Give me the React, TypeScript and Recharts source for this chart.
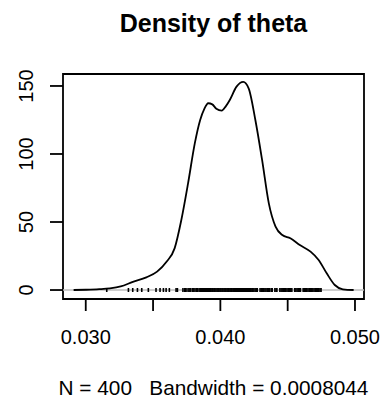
import React from "react";
import {
  ComposedChart,
  Line,
  Scatter,
  XAxis,
  YAxis,
  ReferenceArea,
  ReferenceLine,
} from "recharts";

const titleText = "Density of theta";
const subtitleText = "N = 400\u00a0\u00a0\u00a0Bandwidth = 0.0008044";

const densityX = [
  0.0291, 0.03, 0.031, 0.0318, 0.0326, 0.0335, 0.0345, 0.0353, 0.036, 0.0366,
  0.0371, 0.0376, 0.0381, 0.0385, 0.0388, 0.0391, 0.0394, 0.0397, 0.0401,
  0.0404, 0.0407, 0.0412, 0.0417, 0.0421, 0.0426, 0.0431, 0.0436, 0.0441,
  0.0446, 0.0452, 0.0459, 0.0467, 0.0473, 0.0479, 0.0485, 0.0491, 0.0499,
];
const densityY = [
  0, 0.2, 0.6, 1.2, 2.6, 6.0, 9.3, 13.5, 20.8, 30.6, 51.5, 78.4, 107.8, 125,
  133, 137.3, 136.5, 133.3, 131.9, 135, 139.7, 149.5, 153, 148.3, 125, 95.6,
  63.7, 46.6, 40.4, 38, 33.1, 28.2, 22.1, 12.3, 3.7, 0.5, 0,
];

const rugValues = [
  0.03156, 0.03317, 0.03349, 0.03384, 0.03416, 0.03465, 0.03522, 0.03552,
  0.03577, 0.03597, 0.03621, 0.03671, 0.03681, 0.03722, 0.03735, 0.03741,
  0.03752, 0.03766, 0.03774, 0.03781, 0.03795, 0.03803, 0.03812, 0.03824,
  0.03831, 0.03842, 0.03851, 0.03858, 0.03867, 0.03875, 0.03884, 0.03891,
  0.03899, 0.03906, 0.03914, 0.03921, 0.03929, 0.03937, 0.03944, 0.03952,
  0.03959, 0.03967, 0.03975, 0.03982, 0.03989, 0.03997, 0.04004, 0.04012,
  0.04019, 0.04027, 0.04034, 0.04041, 0.04049, 0.04056, 0.04063, 0.04071,
  0.04078, 0.04085, 0.04093, 0.041, 0.04107, 0.04114, 0.04122, 0.04129,
  0.04136, 0.04144, 0.04151, 0.04158, 0.04166, 0.04173, 0.04181, 0.04188,
  0.04195, 0.04203, 0.04211, 0.04218, 0.04226, 0.04234, 0.04241, 0.04249,
  0.04258, 0.04266, 0.04274, 0.04295, 0.04304, 0.04313, 0.04322, 0.04331,
  0.04339, 0.04348, 0.04357, 0.04366, 0.04378, 0.04385, 0.04405, 0.04414,
  0.0442, 0.04442, 0.04451, 0.04459, 0.04468, 0.04477, 0.04486, 0.04495,
  0.04504, 0.04513, 0.04522, 0.04531, 0.04552, 0.04561, 0.0457, 0.04579,
  0.04588, 0.04595, 0.04615, 0.04624, 0.04633, 0.04642, 0.04651, 0.0466,
  0.04669, 0.04678, 0.04687, 0.04696, 0.04705, 0.04714, 0.04722, 0.04731,
  0.0474, 0.04748,
];

const xTicks = [0.03, 0.035, 0.04, 0.045, 0.05];
const xTickLabels = ["0.030", "", "0.040", "", "0.050"];
const yTicks = [0, 50, 100, 150];
const yTickLabels = ["0", "50", "100", "150"];

const xDomain = [0.02831, 0.05067];
const yDomain = [-6.6, 158.8];

const densityData = densityX.map((x, i) => ({ x, y: densityY[i] }));
const rugData = rugValues.map((x) => ({ x, y: 0 }));

const FONT = "'Liberation Sans', Arial, Helvetica, sans-serif";

const XTick = (props: any) => {
  const { x, y, payload } = props;
  const idx = xTicks.indexOf(payload.value);
  const label = idx >= 0 ? xTickLabels[idx] : "";
  return (
    <g>
      <line x1={x} x2={x} y1={y} y2={y + 12} stroke="#000" strokeWidth={1.8} />
      {label ? (
        <text
          x={x}
          y={y + 45}
          textAnchor="middle"
          fontFamily={FONT}
          fontSize={20}
          fill="#000"
        >
          {label}
        </text>
      ) : null}
    </g>
  );
};

const YTick = (props: any) => {
  const { x, y, payload } = props;
  const idx = yTicks.indexOf(payload.value);
  const label = idx >= 0 ? yTickLabels[idx] : "";
  return (
    <g>
      <line x1={x} x2={x - 13} y1={y} y2={y} stroke="#000" strokeWidth={1.8} />
      <text
        x={x - 30}
        y={y}
        textAnchor="middle"
        fontFamily={FONT}
        fontSize={20}
        fill="#000"
        transform={`rotate(-90 ${x - 30} ${y})`}
      >
        {label}
      </text>
    </g>
  );
};

const RugMark = (props: any) => {
  const { cx, cy } = props;
  return (
    <line x1={cx} x2={cx} y1={cy - 2} y2={cy + 2} stroke="#000" strokeWidth={1.6} />
  );
};

export default function App() {
  return (
    <div
      style={{
        position: "absolute",
        left: 0,
        top: 0,
        width: 384,
        height: 400,
        background: "#fff",
      }}
    >
      <ComposedChart
        width={384}
        height={400}
        margin={{ top: 74, right: 20, bottom: 51, left: 0 }}
      >
        <XAxis
          type="number"
          dataKey="x"
          domain={xDomain}
          ticks={xTicks}
          allowDataOverflow
          axisLine={false}
          tickLine={false}
          tickSize={0}
          tickMargin={0}
          height={50}
          tick={<XTick />}
          interval={0}
        />
        <YAxis
          type="number"
          dataKey="y"
          domain={yDomain}
          ticks={yTicks}
          allowDataOverflow
          axisLine={false}
          tickLine={false}
          tickSize={0}
          tickMargin={0}
          width={63}
          tick={<YTick />}
          interval={0}
        />
        <ReferenceLine y={0} stroke="#bebebe" strokeWidth={1.3} />
        <Scatter
          data={rugData}
          dataKey="y"
          shape={<RugMark />}
          isAnimationActive={false}
        />
        <Line
          data={densityData}
          dataKey="y"
          type="monotone"
          stroke="#000"
          strokeWidth={1.8}
          dot={false}
          activeDot={false}
          isAnimationActive={false}
        />
        <ReferenceArea
          x1={xDomain[0]}
          x2={xDomain[1]}
          y1={yDomain[0]}
          y2={yDomain[1]}
          fill="none"
          fillOpacity={0}
          stroke="#000"
          strokeWidth={1.8}
          ifOverflow="extendDomain"
        />
      </ComposedChart>
      <svg
        width={384}
        height={400}
        style={{ position: "absolute", left: 0, top: 0, pointerEvents: "none" }}
      >
        <text
          x={213.5}
          y={32}
          textAnchor="middle"
          fontFamily={FONT}
          fontWeight="bold"
          fontSize={25}
          fill="#000"
        >
          {titleText}
        </text>
        <text
          x={213.5}
          y={395}
          textAnchor="middle"
          fontFamily={FONT}
          fontSize={20.8}
          fill="#000"
        >
          {subtitleText}
        </text>
      </svg>
    </div>
  );
}
